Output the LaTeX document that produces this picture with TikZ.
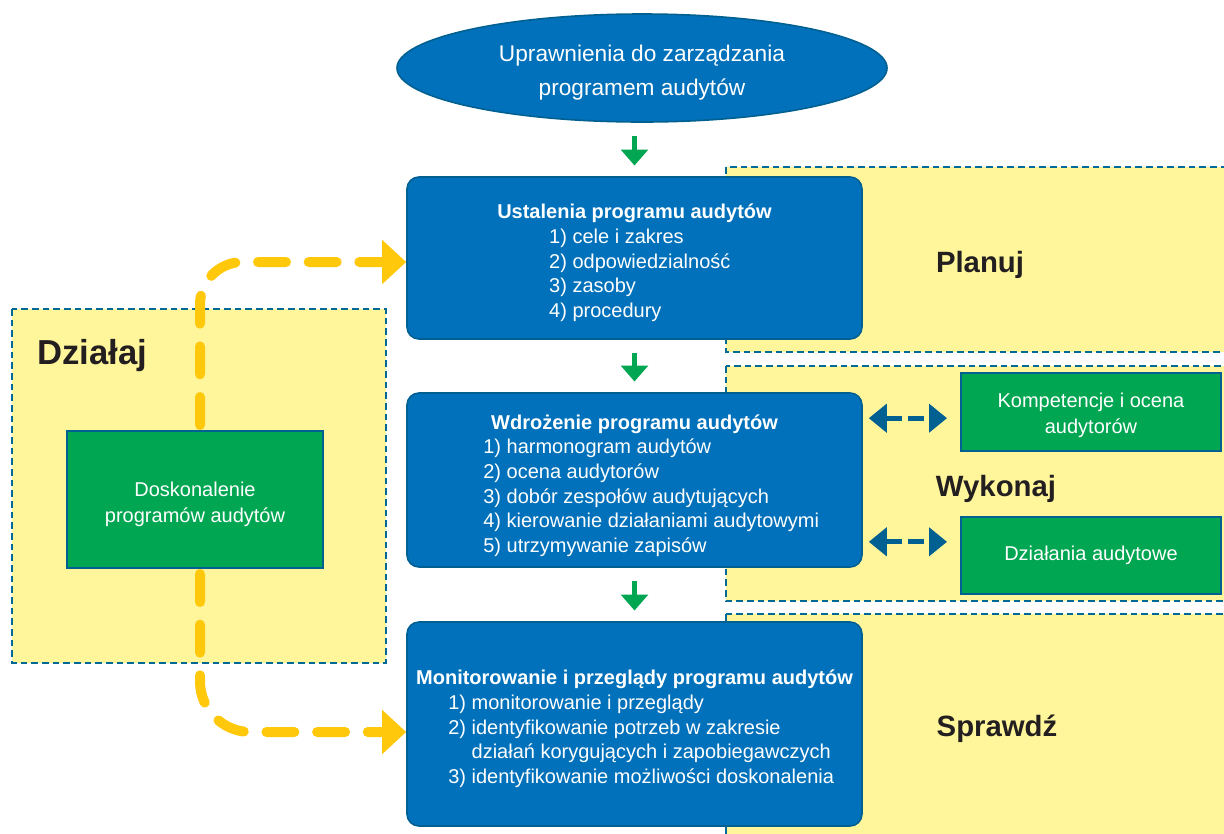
\documentclass[tikz,border=0pt]{standalone}
\usepackage{fontspec}
\setmainfont{Liberation Sans}
\usetikzlibrary{shapes.geometric,arrows.meta,calc}

\definecolor{audblue}{RGB}{0,113,186}
\definecolor{audedge}{RGB}{0,96,145}
\definecolor{audgreen}{RGB}{0,166,81}
\definecolor{audyellow}{RGB}{255,200,10}
\definecolor{regionfill}{RGB}{255,245,155}
\definecolor{regionedge}{RGB}{0,105,150}
\definecolor{labelink}{RGB}{35,31,32}

\newcommand{\toppad}[1]{\rule{0pt}{#1}}

\tikzset{every picture/.style={line width=0.5pt}}
\tikzset{
  region/.style={draw=regionedge, fill=regionfill, line width=1.5pt, dash pattern=on 5pt off 3pt},
  bluebox/.style={draw=audedge, fill=audblue, line width=1.2pt, rounded corners=9pt, text=white,
    minimum width=341.25pt, inner sep=0pt, align=center, font=\fontsize{15}{18.5}\selectfont},
  greenbox/.style={draw=audedge, fill=audgreen, line width=1.5pt, text=white, inner sep=0pt,
    align=center, font=\fontsize{15}{19}\selectfont},
  phase/.style={text=labelink, inner sep=0pt, font=\bfseries\fontsize{22}{26}\selectfont},
  greenarrow/.style={draw=audgreen, line width=3.75pt, -{Triangle[width=20pt,length=12pt]},
    shorten <=10pt, shorten >=8pt},
  linkarrow/.style={draw=audedge, line width=3.75pt, dash pattern=on 12pt off 5pt,
    {Triangle[width=21pt,length=13.5pt]}-{Triangle[width=21pt,length=13.5pt]}},
  feedback/.style={draw=audyellow, line width=7.5pt, line cap=round, dash pattern=on 21pt off 17pt,
    shorten <=3.75pt, -{Triangle[width=32pt,length=18pt]}}
}

\begin{document}
\begin{tikzpicture}[x=0.75pt,y=0.75pt,yscale=-1,xscale=1]
\useasboundingbox (0,0) rectangle (1224,833);
\clip (0,0) rectangle (1224,833);

%Shape: Rectangle [Planuj]
\draw[region] (726,167) rectangle (1245,352);
%Shape: Rectangle [Wykonaj]
\draw[region] (726,366) rectangle (1245,601);
%Shape: Rectangle [Sprawdz]
\draw[region] (726,614) rectangle (1245,850);
%Shape: Rectangle [Dzialaj]
\draw[region] (12,309) rectangle (386,663);

% Text Node
\node[phase] (planuj) at (980,265) {Planuj};
% Text Node
\node[phase] (wykonaj) at (996,489) {Wykonaj};
% Text Node
\node[phase] (sprawdz) at (997,729) {Sprawdź};
% Text Node
\node[phase, font=\bfseries\fontsize{26}{30}\selectfont] (dzialaj) at (92,356) {Działaj};

%Shape: Ellipse
\node[shape=ellipse, draw=audedge, fill=audblue, line width=1.2pt, text=white, minimum width=367.5pt,
  minimum height=81pt, inner sep=0pt, align=center, font=\fontsize{17}{25.5}\selectfont]
  (upr) at (642,68) {\toppad{20pt}Uprawnienia do zarządzania\\programem audytów};

%Shape: Rounded Rect
\node[bluebox, minimum height=121.5pt] (ustal) at (634.5,258)
  {\toppad{21pt}{\bfseries Ustalenia programu audytów}\\
   \hspace*{8pt}\begin{tabular}[t]{@{}l@{~}l@{}}
   1)&cele i zakres\\
   2)&odpowiedzialność\\
   3)&zasoby\\
   4)&procedury
   \end{tabular}};

%Shape: Rounded Rect
\node[bluebox, minimum height=130.5pt] (wdroz) at (634.5,480)
  {\toppad{22pt}{\bfseries Wdrożenie programu audytów}\\
   \hspace*{25pt}\begin{tabular}[t]{@{}l@{~}l@{}}
   1)&harmonogram audytów\\
   2)&ocena audytorów\\
   3)&dobór zespołów audytujących\\
   4)&kierowanie działaniami audytowymi\\
   5)&utrzymywanie zapisów
   \end{tabular}};

%Shape: Rounded Rect
\node[bluebox, minimum height=153pt] (monit) at (634.5,724)
  {\toppad{21pt}{\bfseries Monitorowanie i przeglądy programu audytów}\\
   \hspace*{10pt}\begin{tabular}[t]{@{}l@{~}l@{}}
   1)&monitorowanie i przeglądy\\
   2)&identyfikowanie potrzeb w zakresie\\
     &działań korygujących i zapobiegawczych\\
   3)&identyfikowanie możliwości doskonalenia
   \end{tabular}};

%Shape: Rectangle
\node[greenbox, minimum width=192pt, minimum height=102.75pt] (dosk) at (195,499.5)
  {\toppad{18pt}Doskonalenie\\programów audytów};
%Shape: Rectangle
\node[greenbox, minimum width=195pt, minimum height=58.5pt] (komp) at (1091,412)
  {\toppad{16pt}Kompetencje i ocena\\audytorów};
%Shape: Rectangle
\node[greenbox, minimum width=195pt, minimum height=57.75pt] (dzial) at (1091,555.5)
  {Działania audytowe};

%Straight Lines
\draw[greenarrow] (upr.south -| ustal.north) -- (ustal.north);
\draw[greenarrow] (ustal.south) -- (wdroz.north);
\draw[greenarrow] (wdroz.south) -- (monit.north);

%Straight Lines
\draw[linkarrow] ($(wdroz.north east)+(6,26)$) -- ($(komp.west |- wdroz.north east)+(-13,26)$);
\draw[linkarrow] ($(wdroz.south east)+(6,-26)$) -- ($(dzial.west |- wdroz.south east)+(-13,-26)$);

%Curve Lines
\draw[feedback, rounded corners=32pt] ($(dosk.north)+(5,0)$) -- ($(dosk.north |- ustal.west)+(5,4)$)
  -- ($(ustal.west)+(0,4)$);
\draw[feedback, rounded corners=38pt] ($(dosk.south)+(5,0)$) -- ($(dosk.south |- monit.west)+(5,8)$)
  -- ($(monit.west)+(0,8)$);

\end{tikzpicture}
\end{document}
